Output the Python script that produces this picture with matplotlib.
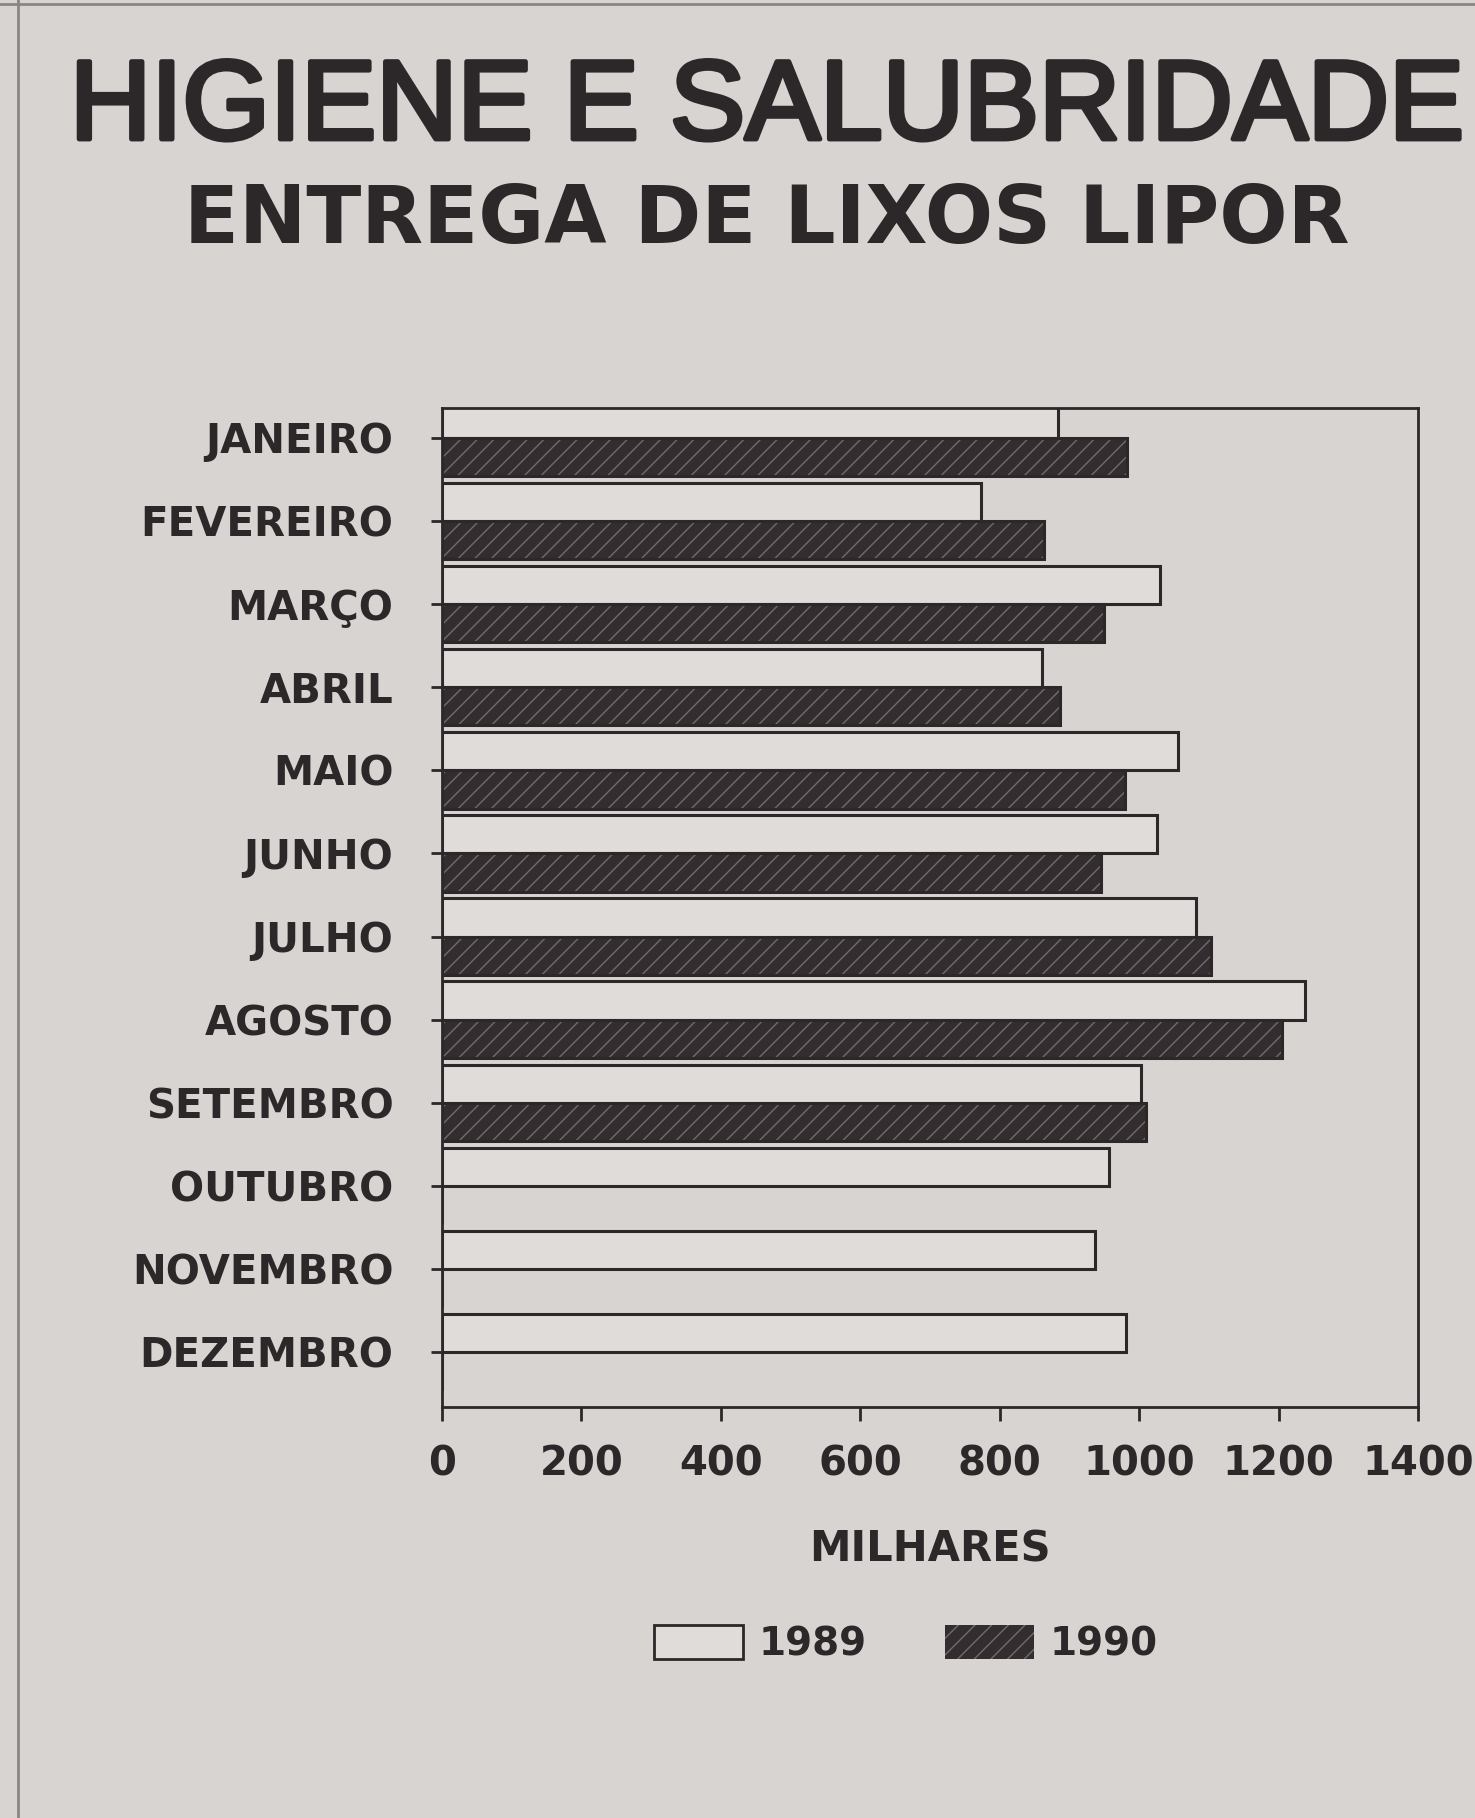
import numpy as np
import matplotlib.pyplot as plt
import matplotlib.patheffects as pe
from matplotlib.patches import Patch

## data (milhares)
meses = ["JANEIRO", "FEVEREIRO", "MARÇO", "ABRIL", "MAIO", "JUNHO",
         "JULHO", "AGOSTO", "SETEMBRO", "OUTUBRO", "NOVEMBRO", "DEZEMBRO"]
v1989 = [884, 773, 1030, 861, 1056, 1026, 1082, 1238, 1002, 957, 936, 981]
v1990 = [983, 863, 950, 887, 979, 946, 1103, 1205, 1010, 0, 0, 0]
xticks = [0, 200, 400, 600, 800, 1000, 1200, 1400]

paper = "#d8d4d1"
ink = "#2c2729"
dark = "#332d2f"
hatch_col = "#726b6d"
light = "#e0dcd9"

plt.rcParams['font.family'] = ['DejaVu Sans']

W, H = 1475, 1818
fig = plt.figure(figsize=(W / 100, H / 100), dpi=100, facecolor=paper)
ax = fig.add_axes([442 / W, 1 - 1407 / H, (1418 - 442) / W, (1407 - 408) / H])
ax.set_facecolor(paper)

y = np.arange(len(meses))
h = 0.46
## 1989: open bars
ax.barh(y - h / 2, v1989, height=h, color=light, edgecolor=ink, linewidth=2.2)
## 1990: dark hatched bars
ax.barh(y + h / 2, v1990, height=h, color=dark, edgecolor=hatch_col, linewidth=0, hatch="//")
ax.barh(y + h / 2, v1990, height=h, color="none", edgecolor=ink, linewidth=2.2)

ax.set_ylim(11.66, -0.36)
ax.set_xlim(0, 1400)
ax.set_yticks(y)
ax.set_yticklabels(meses, fontsize=29, fontweight="bold", color=ink)
ax.set_xticks(xticks)
ax.set_xticklabels([str(t) for t in xticks], fontsize=29, fontweight="bold", color=ink)
ax.tick_params(axis="y", length=8, width=2, color=ink, pad=27)
ax.tick_params(axis="x", length=10, width=2, color=ink, pad=17)
for s in ax.spines.values():
    s.set_color(ink)
    s.set_linewidth(2)
ax.set_xlabel("MILHARES", fontsize=30, fontweight="bold", color=ink, labelpad=32)

## titles
fig.text(0.52, 1 - 139 / H, "HIGIENE E SALUBRIDADE", ha="center", va="baseline",
         fontsize=81, family="Liberation Sans", color=ink,
         path_effects=[pe.withStroke(linewidth=3.5, foreground=ink)])
fig.text(0.52, 1 - 243 / H, "ENTREGA DE LIXOS LIPOR", ha="center", va="baseline",
         fontsize=58, fontweight="bold", color=ink)

## legend
handles = [Patch(facecolor=light, edgecolor=ink, linewidth=2, label="1989"),
           Patch(facecolor=dark, edgecolor=hatch_col, hatch="//", linewidth=0, label="1990")]
fig.legend(handles=handles, loc="center", bbox_to_anchor=(0.614, 1 - 1644 / H), ncol=2,
           frameon=False, handlelength=2.3, handleheight=1.0, handletextpad=0.4,
           columnspacing=2.0, labelcolor=ink, prop={"weight": "bold", "size": 28})

## page border
fig.add_artist(plt.Line2D([18 / W, 18 / W], [0, 1], transform=fig.transFigure,
                          color="#8a8584", linewidth=2))
fig.add_artist(plt.Line2D([0, 1], [1 - 4 / H, 1 - 4 / H], transform=fig.transFigure,
                          color="#8a8584", linewidth=2))

fig.savefig("out.png", dpi=100, facecolor=paper)
